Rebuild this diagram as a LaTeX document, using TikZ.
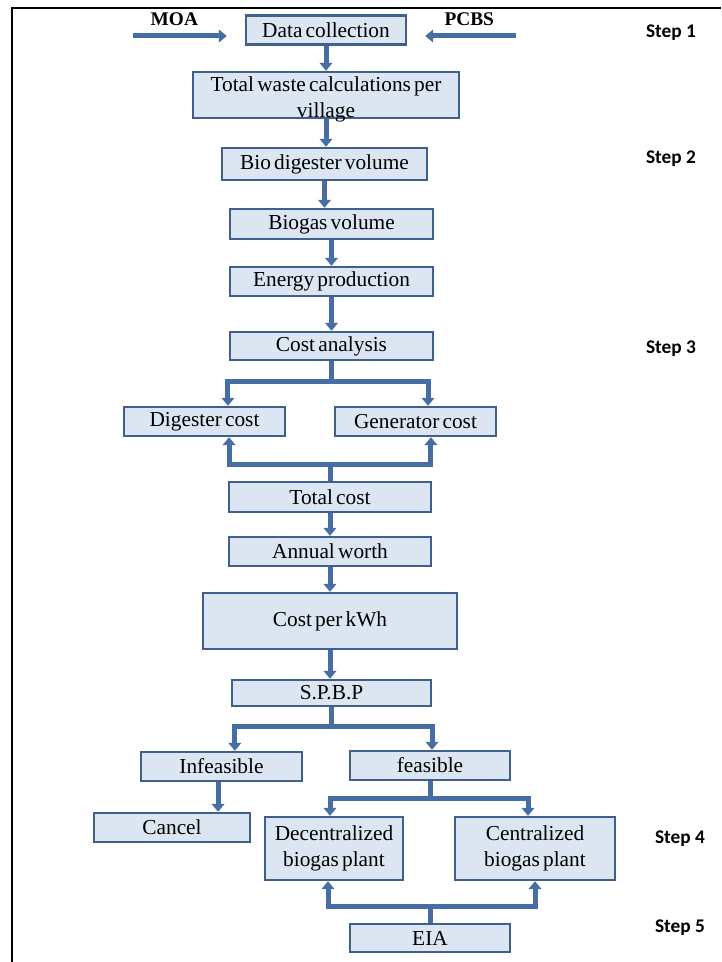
\documentclass[tikz,border=0pt]{standalone}
\usepackage{fontspec}
\setmainfont{Liberation Serif}[WordSpace=0.6]
\newfontfamily\stepfont{Carlito}
\usetikzlibrary{arrows.meta, positioning}

\definecolor{boxline}{RGB}{63,95,140}
\definecolor{boxfill}{RGB}{220,230,242}
\definecolor{flowblue}{RGB}{70,110,164}

\begin{document}
\begin{tikzpicture}[
            x = 0.75pt, y = -0.75pt, % pixel grid, y going down
            > = {Triangle[width=9.5pt, length=6pt]}, % arrow head style
            flow/.style = {draw = flowblue, line width = 3.75pt}, % thick blue connector
            semithick
        ]

        \tikzstyle{box}=[
            draw = boxline,
            line width = 1.8pt,
            fill = boxfill,
            inner xsep = 3pt,
            inner ysep = 1pt,
            align = center,
            font = \fontsize{16}{19.5}\selectfont
        ]
        \tikzstyle{steplabel}=[font = \stepfont\bfseries\fontsize{14.5}{16}\selectfont]
        \tikzstyle{source}=[font = \bfseries\fontsize{14.5}{16}\selectfont, inner sep = 1pt]

        \useasboundingbox (0,0) rectangle (721,962);

        % frame
        \draw[line width = 1.5pt] (12,962) -- (12,8) -- (721,8);

        % boxes
        \node[box, minimum width=120pt, minimum height=21.75pt] (data) at (326,30) {Data collection};
        \node[box, minimum width=199.5pt, inner ysep=0pt] (waste) at (326,95) {\rule{0pt}{15pt}Total waste calculations per\\\smash{village}};
        \node[box, minimum width=153.75pt, minimum height=24pt] (bio) at (324.5,164) {Bio digester volume};
        \node[box, minimum width=152.25pt, minimum height=22.5pt] (biogas) at (331.5,224) {Biogas volume};
        \node[box, minimum width=152.25pt, minimum height=21.75pt] (energy) at (331.5,281.5) {Energy production};
        \node[box, minimum width=152.25pt, minimum height=21pt] (costan) at (331.5,346) {Cost analysis};
        \node[box, minimum width=120.75pt, minimum height=21.75pt] (digcost) at (204.5,421.5) {Digester cost};
        \node[box, minimum width=120.75pt, minimum height=21.75pt] (gencost) at (415.5,421.5) {Generator cost};
        \node[box, minimum width=151.5pt, minimum height=22.5pt] (total) at (330,497) {Total cost};
        \node[box, minimum width=151.5pt, minimum height=21.75pt] (annual) at (330,551.5) {Annual worth};
        \node[box, minimum width=190.5pt, minimum height=42pt] (kwh) at (330,621) {Cost per kWh};
        \node[box, minimum width=149.25pt, minimum height=19.5pt] (spbp) at (331.5,693) {S.P.B.P};
        \node[box, minimum width=120.75pt, minimum height=21.75pt] (infeas) at (221.5,766.5) {Infeasible};
        \node[box, minimum width=120pt, minimum height=21.75pt] (feas) at (430,765.5) {feasible};
        \node[box, minimum width=117pt, minimum height=21.75pt] (cancel) at (172,827.5) {Cancel};
        \node[box, minimum width=103.5pt, minimum height=47.25pt] (decen) at (334,848.5) {Decentralized\\biogas plant};
        \node[box, minimum width=120pt, minimum height=47.25pt] (cen) at (535,848.5) {Centralized\\biogas plant};
        \node[box, minimum width=120pt, minimum height=21pt] (eia) at (430,938) {EIA};

        % step labels
        \node[steplabel] (s1) at (671,33) {Step 1};
        \node[steplabel] (s2) at (671,159) {Step 2};
        \node[steplabel] (s3) at (671,349) {Step 3};
        \node[steplabel] (s4) at (680,839) {Step 4};
        \node[steplabel] (s5) at (680,928) {Step 5};

        % data sources
        \coordinate (moa) at (133,36);
        \coordinate (pcbs) at (516,36);
        \draw[flow, ->, shorten >=13.5pt] (moa) -- (moa -| data.west)
            node[source, pos=0.37, above=5pt] {MOA};
        \draw[flow, ->, shorten >=13.5pt] (pcbs) -- (pcbs -| data.east)
            node[source, pos=0.43, above=5pt] {PCBS};

        % main chain
        \draw[flow, ->] (data) -- (waste);
        \draw[flow, ->] (waste.south) -- (waste.south |- bio.north);
        \draw[flow, ->] (bio.south) -- (bio.south |- biogas.north);
        \draw[flow, ->] (biogas) -- (energy);
        \draw[flow, ->] (energy) -- (costan);

        % cost split
        \draw[flow, ->] (costan.south) -- ++(0,20) -| ([xshift=17.6pt]digcost.north);
        \draw[flow, ->] (costan.south) -- ++(0,20) -| ([xshift=9.4pt]gencost.north);
        \draw[flow, ->] (total.north) -- ++(0,-16) -| ([xshift=18.4pt]digcost.south);
        \draw[flow, ->] (total.north) -- ++(0,-16) -| ([xshift=11.6pt]gencost.south);

        \draw[flow, ->] (total) -- (annual);
        \draw[flow, ->] (annual) -- (kwh);
        \draw[flow, ->] (kwh.south) -- (kwh.south |- spbp.north);

        % feasibility
        \draw[flow, ->] (spbp.south) -- ++(0,19) -| ([xshift=10pt]infeas.north);
        \draw[flow, ->] (spbp.south) -- ++(0,19) -| ([xshift=1.5pt]feas.north);
        \draw[flow, ->] ([xshift=-2.6pt]infeas.south) -- ([xshift=-2.6pt]infeas.south |- cancel.north);
        \draw[flow, ->] (feas.south) -- ++(0,17) -| ([xshift=-3pt]decen.north);
        \draw[flow, ->] (feas.south) -- ++(0,17) -| ([xshift=-5.25pt]cen.north);
        \draw[flow, ->] (eia.north) -- ++(0,-16) -| ([xshift=-4.5pt]decen.south);
        \draw[flow, ->] (eia.north) -- ++(0,-16) -| (cen.south);

\end{tikzpicture}
\end{document}
